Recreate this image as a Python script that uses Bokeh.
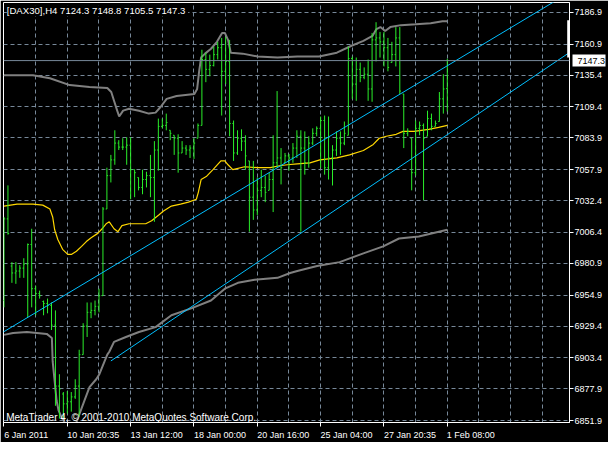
from bokeh.plotting import figure
from bokeh.models import (ColumnDataSource, FixedTicker, Range1d, Span, Label,
                          PrintfTickFormatter, LinearAxis)
from bokeh.embed import file_html
from bokeh.resources import INLINE

# ---------------- data ----------------
chart_title = "[DAX30],H4  7124.3 7148.8 7105.5 7147.3"
copyright_text = "MetaTrader 4, \u00a9 2001-2010 MetaQuotes Software Corp."
last_price = 7147.3

bar_open = [6950.4, 7017.4, 6978.7, 6973.0, 6974.6, 6977.0, 6980.3, 6996.4, 6960.1, 6956.1,
            6949.6, 6948.0, 6946.4, 6930.2, 6880.2, 6873.7, 6865.6, 6867.3, 6871.3, 6880.2,
            6906.0, 6929.4, 6940.7, 6942.3, 6945.6, 6954.4, 7025.5, 7052.9, 7065.8, 7079.6,
            7076.3, 7076.3, 7077.9, 7057.8, 7051.3, 7043.2, 7049.7, 7052.9, 7051.3, 7073.9,
            7093.3, 7094.1, 7090.1, 7086.0, 7083.6, 7071.5, 7075.5, 7073.9, 7075.5, 7083.6,
            7094.1, 7148.2, 7140.1, 7143.3, 7152.2, 7157.9, 7138.5, 7146.6, 7095.7, 7071.5,
            7083.6, 7081.2, 7065.0, 7035.2, 7024.7, 7040.8, 7043.2, 7040.8, 7049.7, 7063.4,
            7067.4, 7063.4, 7069.1, 7067.4, 7075.5, 7085.2, 7075.5, 7063.4, 7079.6, 7087.6,
            7091.7, 7098.1, 7059.4, 7067.4, 7073.9, 7083.6, 7079.6, 7086.0, 7149.0, 7128.0,
            7140.1, 7133.6, 7136.1, 7124.0, 7164.3, 7165.9, 7162.7, 7157.9, 7145.7, 7152.2,
            7165.9, 7119.9, 7087.6, 7083.6, 7055.3, 7091.7, 7094.1, 7085.2, 7099.7, 7093.3,
            7097.3, 7115.9, 7124.3]
bar_high = [7019.0, 7044.9, 6981.9, 6981.9, 6979.5, 6985.1, 6997.2, 7009.3, 6962.5, 6958.5,
            6950.4, 6952.0, 6948.8, 6942.3, 6889.9, 6875.3, 6876.1, 6875.3, 6885.8, 6910.0,
            6931.8, 6948.8, 6948.8, 6950.4, 6960.1, 7027.1, 7059.4, 7069.9, 7090.1, 7082.0,
            7083.6, 7084.4, 7084.4, 7057.8, 7051.3, 7057.8, 7056.1, 7069.9, 7081.2, 7099.7,
            7099.7, 7103.8, 7090.1, 7086.0, 7086.8, 7081.2, 7077.9, 7077.9, 7083.6, 7095.7,
            7156.2, 7153.8, 7152.2, 7158.7, 7162.7, 7165.9, 7166.7, 7164.3, 7098.1, 7090.1,
            7090.9, 7086.0, 7065.0, 7065.0, 7051.3, 7057.8, 7052.9, 7055.3, 7086.0, 7122.3,
            7075.5, 7071.5, 7070.7, 7079.6, 7090.1, 7090.1, 7089.2, 7085.2, 7091.7, 7093.3,
            7101.4, 7102.2, 7101.4, 7077.9, 7089.2, 7089.2, 7097.3, 7158.7, 7150.6, 7149.8,
            7145.7, 7141.7, 7148.2, 7170.0, 7178.8, 7170.8, 7170.8, 7165.9, 7162.7, 7174.8,
            7174.8, 7119.9, 7091.7, 7083.6, 7098.1, 7097.3, 7095.7, 7106.2, 7103.8, 7098.1,
            7121.5, 7136.1, 7148.8]
bar_low = [6944.8, 7004.5, 6964.9, 6964.1, 6969.0, 6969.0, 6936.7, 6944.8, 6938.3, 6952.0,
           6938.3, 6939.9, 6926.2, 6864.0, 6853.5, 6853.5, 6857.6, 6859.2, 6869.7, 6855.1,
           6906.0, 6920.5, 6935.9, 6938.3, 6940.7, 6954.4, 7025.5, 7047.3, 7061.8, 7073.9,
           7073.9, 7061.8, 7033.5, 7035.2, 7040.8, 7037.6, 7043.2, 7035.2, 7015.0, 7057.0,
           7091.7, 7090.1, 7082.0, 7069.9, 7055.3, 7071.5, 7069.9, 7067.4, 7066.6, 7083.6,
           7094.1, 7129.6, 7134.4, 7142.5, 7148.2, 7102.2, 7128.0, 7085.2, 7065.0, 7069.9,
           7073.1, 7057.8, 7006.9, 7016.6, 7020.6, 7035.2, 7031.1, 7040.8, 7023.0, 7059.4,
           7045.7, 7063.4, 7057.0, 7063.4, 7067.4, 7006.9, 7053.7, 7059.4, 7077.9, 7085.2,
           7059.4, 7053.7, 7049.7, 7044.8, 7069.1, 7069.9, 7077.9, 7086.0, 7115.9, 7114.3,
           7129.6, 7132.0, 7114.3, 7113.5, 7146.6, 7149.8, 7142.5, 7138.5, 7145.7, 7142.5,
           7119.9, 7075.5, 7085.2, 7040.8, 7052.9, 7086.0, 7032.7, 7085.2, 7090.1, 7093.3,
           7097.3, 7103.8, 7105.5]
bar_close = [7017.4, 7005.3, 6973.0, 6974.6, 6977.0, 6980.3, 6996.4, 6960.1, 6956.1, 6954.4,
             6948.0, 6946.4, 6930.2, 6880.2, 6877.8, 6865.6, 6867.3, 6871.3, 6880.2, 6906.0,
             6929.4, 6940.7, 6942.3, 6945.6, 6954.4, 7025.5, 7052.9, 7065.8, 7079.6, 7076.3,
             7076.3, 7077.9, 7057.8, 7055.3, 7043.2, 7049.7, 7052.9, 7051.3, 7073.9, 7093.3,
             7094.1, 7096.5, 7087.6, 7083.6, 7071.5, 7075.5, 7073.9, 7075.5, 7079.6, 7094.1,
             7148.2, 7140.1, 7143.3, 7152.2, 7157.9, 7138.5, 7146.6, 7095.7, 7071.5, 7083.6,
             7081.2, 7069.1, 7035.2, 7024.7, 7040.8, 7043.2, 7039.2, 7049.7, 7063.4, 7067.4,
             7059.4, 7069.1, 7067.4, 7075.5, 7085.2, 7075.5, 7063.4, 7079.6, 7087.6, 7091.7,
             7098.1, 7059.4, 7067.4, 7073.9, 7083.6, 7079.6, 7087.6, 7149.0, 7128.0, 7140.1,
             7133.6, 7136.1, 7124.0, 7164.3, 7165.9, 7162.7, 7157.9, 7141.7, 7152.2, 7165.9,
             7122.3, 7087.6, 7089.2, 7055.3, 7091.7, 7094.1, 7083.6, 7099.7, 7093.3, 7095.7,
             7115.9, 7124.0, 7147.3]

# envelope / moving average, read as (bar, price) points
upper_band_bar = [0, 7.3, 11.6, 16.6, 21.6, 26.1, 27.1, 27.8, 28.6, 29.1, 30.1, 31.6, 34.1,
                  36.6, 38.3, 39.6, 41.1, 43.6, 48.1, 48.8, 49.3, 49.8, 50.8, 52.3, 53.8,
                  55.1, 55.8, 56.6, 57.3, 60.3, 64.1, 69.1, 74.1, 79.6, 84.1, 87.8, 90.8,
                  93.1, 94.1, 95.1, 96.3, 97.6, 100.3, 104.1, 107.8, 110.8, 112]
upper_band_price = [7135.3, 7135.3, 7132.8, 7127.2, 7125.6, 7124.8, 7121.5, 7114.3, 7106.2,
                    7101.4, 7106.2, 7107.8, 7106.2, 7103.8, 7104.6, 7109.4, 7115.9, 7118.3,
                    7119.9, 7124.0, 7138.5, 7149.8, 7153.0, 7157.0, 7162.7, 7170.0, 7170.0,
                    7164.3, 7153.8, 7153.0, 7150.6, 7149.8, 7150.6, 7150.6, 7153.8, 7159.5,
                    7163.5, 7167.5, 7173.2, 7174.8, 7171.6, 7174.8, 7176.4, 7177.2, 7178.0,
                    7179.6, 7179.6]
lower_band_bar = [0, 2.3, 5.8, 8.3, 10.8, 12.1, 12.3, 12.8, 13.3, 13.8, 14.6, 15.6, 18.1,
                  19.1, 20.3, 21.6, 23.3, 24.1, 25.3, 26.1, 26.6, 27.8, 30.8, 34.1, 38.3,
                  42.3, 47.3, 52.3, 55.8, 59.1, 63.3, 69.1, 72.3, 74.1, 79.1, 84.8, 90.8,
                  95.8, 99.8, 104.8, 112]
lower_band_price = [6922.2, 6923.8, 6924.6, 6923.8, 6923.0, 6919.7, 6900.4, 6884.2, 6868.1,
                    6860.0, 6854.3, 6848.7, 6848.7, 6857.6, 6868.1, 6879.4, 6885.8, 6889.9,
                    6899.6, 6906.0, 6908.4, 6916.5, 6920.5, 6924.6, 6928.6, 6938.3, 6944.0,
                    6950.4, 6960.1, 6964.9, 6967.4, 6969.0, 6973.0, 6974.6, 6978.7, 6981.9,
                    6989.1, 6994.8, 7001.3, 7002.9, 7008.5]
ma_bar = [0, 3.3, 7.3, 9.8, 11.6, 12.3, 12.8, 13.6, 14.8, 16.1, 17.1, 18.3, 19.6, 20.8,
          22.1, 23.6, 24.8, 25.8, 26.6, 27.8, 28.8, 29.8, 31.6, 35.8, 37.3, 39.1, 40.3,
          42.3, 44.6, 46.6, 48.6, 49.1, 49.8, 51.1, 52.8, 54.8, 55.8, 56.6, 57.8, 60.8,
          64.1, 67.3, 69.6, 71.6, 74.1, 77.3, 79.8, 84.1, 87.3, 90.8, 93.3, 94.8, 96.6,
          99.1, 100.8, 103.6, 107.3, 109.8, 112]
ma_price = [7027.9, 7029.5, 7029.5, 7028.7, 7025.5, 7019.0, 7008.5, 7000.5, 6992.4, 6988.3,
            6988.3, 6990.8, 6994.8, 6998.8, 7002.1, 7005.3, 7009.3, 7013.4, 7015.0, 7009.3,
            7006.9, 7011.8, 7013.4, 7013.4, 7015.8, 7020.6, 7023.9, 7027.9, 7029.5, 7031.1,
            7033.5, 7039.2, 7049.7, 7052.1, 7057.8, 7065.0, 7065.0, 7061.8, 7057.8, 7060.2,
            7059.4, 7059.4, 7061.0, 7061.8, 7062.6, 7063.4, 7065.8, 7067.4, 7069.9, 7073.5,
            7078.5, 7083.6, 7085.2, 7086.8, 7089.2, 7089.2, 7090.9, 7092.5, 7094.1]

# two trend lines, (bar, price) anchors
upper_trend_bar = [-0.5, 140.0]
upper_trend_price = [6923.9, 7197.6]
lower_trend_bar = [27.0, 143.0]
lower_trend_price = [6900.8, 7154.2]

# small white marker on the price scale
scale_marker_price = [7149.8, 7180.5]

price_ticks = [7186.9, 7160.9, 7135.4, 7109.4, 7083.9, 7057.9, 7032.4, 7006.4,
               6980.9, 6954.9, 6929.4, 6903.4, 6877.9, 6851.9]
date_ticks = [0, 16, 32, 48, 64, 80, 96, 112]
date_labels = ["6 Jan 2011", "10 Jan 20:35", "13 Jan 12:00", "18 Jan 00:00",
               "20 Jan 16:00", "25 Jan 04:00", "27 Jan 20:35", "1 Feb 08:00"]
grid_bars = [8 * k for k in range(1, 18)]

# ---------------- styling ----------------
FONT = "Liberation Sans"
FS = "9px"
BAR = "#2aee2a"
GRID = "#778899"
PX_PER_BAR = 4.0
EM = 9.0  # font size in px, used to left-align the date labels on their ticks

x_start, x_end = -0.125, 142.875
y_start, y_end = 6850.3, 7194.97

bars = list(range(len(bar_open)))
tick = 0.3
src = ColumnDataSource(dict(
    x=bars, o=bar_open, h=bar_high, l=bar_low, c=bar_close,
    xl=[b - tick for b in bars], xr=[b + tick for b in bars]))

p = figure(width=608, height=442, x_range=Range1d(x_start, x_end),
           y_range=Range1d(y_start, y_end), output_backend="svg",
           toolbar_location=None, y_axis_location="right",
           background_fill_color="black", border_fill_color="black",
           min_border_left=3, min_border_top=2, min_border_right=33,
           min_border_bottom=14, outline_line_color="white", outline_line_width=1)

# grid
p.xgrid.ticker = FixedTicker(ticks=grid_bars)
for g in (p.xgrid, p.ygrid):
    g.grid_line_color = GRID
    g.grid_line_dash = "4 3"
    g.grid_line_width = 1

# price axis
p.yaxis.ticker = FixedTicker(ticks=price_ticks)
p.yaxis.formatter = PrintfTickFormatter(format="%.1f")
p.yaxis.major_label_standoff = 1

# time axis: tick marks only
p.xaxis.ticker = FixedTicker(ticks=date_ticks)
p.xaxis.major_label_overrides = {t: "" for t in date_ticks}
p.xaxis.major_label_text_font_size = "0px"
p.xaxis.major_label_standoff = 0

for ax in (p.xaxis, p.yaxis):
    ax.axis_line_color = "white"
    ax.major_tick_line_color = "white"
    ax.major_tick_out = 4
    ax.major_tick_in = 0
    ax.minor_tick_out = 0
    ax.minor_tick_in = 0
    ax.minor_tick_line_color = None
    ax.major_label_text_color = "white"
    ax.major_label_text_font = FONT
    ax.major_label_text_font_size = FS


# time axis: labels, each centred half its width right of its tick (so it starts at the tick)
def text_em(s):
    w = 0.0
    for ch in s:
        if ch.isdigit():
            w += 0.556
        elif ch in " :.":
            w += 0.278
        elif ch in "JF":
            w += 0.55
        else:
            w += 0.556
    return w


label_pos = [round(t + text_em(s) * EM / 2 / PX_PER_BAR, 3) for t, s in zip(date_ticks, date_labels)]
label_axis = LinearAxis(ticker=FixedTicker(ticks=label_pos),
                        major_label_overrides=dict(zip(label_pos, date_labels)),
                        axis_line_color=None, major_tick_line_color=None,
                        major_tick_out=0, major_tick_in=0, minor_tick_out=0, minor_tick_in=0,
                        minor_tick_line_color=None,
                        major_label_standoff=3, major_label_text_color="white",
                        major_label_text_font=FONT, major_label_text_font_size=FS)
p.add_layout(label_axis, "below")

# last-price box on the price scale: a second, outer price axis whose single wide
# white tick points back inwards over the label column, with the price written on it
price_box_axis = LinearAxis(ticker=FixedTicker(ticks=[last_price]),
                            formatter=PrintfTickFormatter(format="%.1f"),
                            axis_line_color=None, minor_tick_line_color=None,
                            minor_tick_out=0, minor_tick_in=0,
                            major_tick_line_color="white", major_tick_line_width=12,
                            major_tick_out=0, major_tick_in=33, major_label_standoff=-28,
                            major_label_text_color="black", major_label_text_font=FONT,
                            major_label_text_font_size=FS)
p.add_layout(price_box_axis, "right")

# price line
p.add_layout(Span(location=last_price, dimension="width", line_color=GRID, line_width=1))

# bands and average
p.line(upper_band_bar, upper_band_price, line_color="#808080", line_width=2)
p.line(lower_band_bar, lower_band_price, line_color="#808080", line_width=2)
p.line(ma_bar, ma_price, line_color="#ffd700", line_width=1.2)

# bars
p.segment(x0="x", y0="l", x1="x", y1="h", source=src, line_color=BAR, line_width=1)
p.segment(x0="xl", y0="o", x1="x", y1="o", source=src, line_color=BAR, line_width=1)
p.segment(x0="x", y0="c", x1="xr", y1="c", source=src, line_color=BAR, line_width=1)

# trend lines
p.line(upper_trend_bar, upper_trend_price, line_color="#00bfff", line_width=1)
p.line(lower_trend_bar, lower_trend_price, line_color="#00bfff", line_width=1)

# marker on the right edge
p.line([x_end - 0.2, x_end - 0.2], scale_marker_price, line_color="white", line_width=3)

# texts
p.add_layout(Label(x=0.7, y=7188.1, text=chart_title, text_color="white",
                   text_font=FONT, text_font_size="9.6px", text_baseline="middle",
                   background_fill_color="black"))
p.add_layout(Label(x=0.55, y=6854.3, text=copyright_text, text_color="white",
                   text_font=FONT, text_font_size="10px", text_baseline="middle"))

open("out.html", "w").write(file_html(p, INLINE))
